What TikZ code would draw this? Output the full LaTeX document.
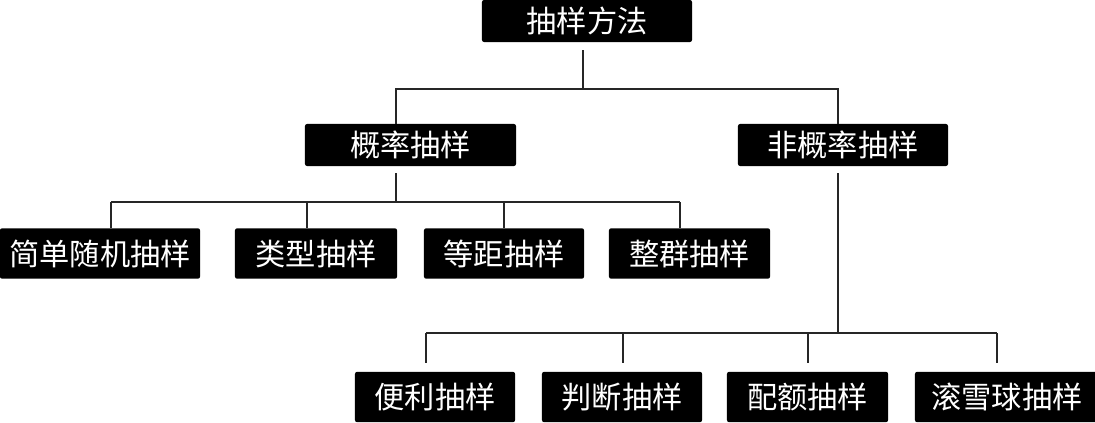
\documentclass[tikz,border=0pt]{standalone}
\usepackage{fontspec}
\newfontfamily\cjk{Noto Sans CJK SC}
\usetikzlibrary{positioning}

\begin{document}
\begin{tikzpicture}[x=0.025cm, y=-0.025cm,
		box/.style={fill=black, text=white, rounded corners=1.5pt, inner sep=0pt, minimum height=1.05cm, font=\cjk\fontsize{21.5}{22}\selectfont},
		lowbox/.style={box, minimum height=1.26cm},
		link/.style={line width=1.3pt, black!85}
		]
		\useasboundingbox (0,0) rectangle (1095,422);
		
		% ----- top -----
		\node[box, minimum width=5.25cm] (top) at (587,21) {抽样方法};
		
		% ----- level 1 -----
		\node[box, minimum width=5.275cm] (prob) at (410.5,145) {概率抽样};
		\node[box, minimum width=5.25cm] (nprob) at (843,145) {非概率抽样};
		
		% ----- level 2, probability -----
		\node[lowbox, minimum width=5cm] (l1) at (100,253.5) {简单随机抽样};
		\node[lowbox, minimum width=4.05cm] (l2) at (316,253.5) {类型抽样};
		\node[lowbox, minimum width=4cm] (l3) at (504,253.5) {等距抽样};
		\node[lowbox, minimum width=4.025cm] (l4) at (689.5,253.5) {整群抽样};
		
		% ----- level 2, non-probability -----
		\node[lowbox, minimum width=4cm] (r1) at (435,397) {便利抽样};
		\node[lowbox, minimum width=4cm] (r2) at (622,397) {判断抽样};
		\node[lowbox, minimum width=4.025cm] (r3) at (807.5,397) {配额抽样};
		\node[lowbox, minimum width=4.6cm] (r4) at (1007,397) {滚雪球抽样};
		
		% Connectors: top -> level 1
		\coordinate (ta) at (583,89);
		\coordinate (pa) at (396,89);
		\coordinate (na) at (838,89);
		\draw[link, shorten <=0.2cm] (top.south -| ta) -- (ta);
		\draw[link] (prob.north -| pa) -- (pa) -- (na) -- (nprob.north -| na);
		
		% Connectors: probability -> its kinds
		\coordinate (pb) at (396,202);
		\draw[link, shorten <=0.18cm] (prob.south -| pb) -- (pb);
		\foreach \n/\x in {l1/111, l2/307, l3/504, l4/680} {
			\coordinate (\n t) at (\x,202);
			\draw[link] (\n t) -- (\n.north -| \n t);
		}
		\draw[link] (l1t) -- (l4t);
		
		% Connectors: non-probability -> its kinds
		\coordinate (nb) at (838,333);
		\draw[link, shorten <=0.18cm] (nprob.south -| nb) -- (nb);
		\foreach \n/\x in {r1/426, r2/623, r3/808, r4/997} {
			\coordinate (\n t) at (\x,333);
			\draw[link, shorten >=0.22cm] (\n t) -- (\n.north -| \n t);
		}
		\draw[link] (r1t) -- (r4t);
		
	\end{tikzpicture}
\end{document}
